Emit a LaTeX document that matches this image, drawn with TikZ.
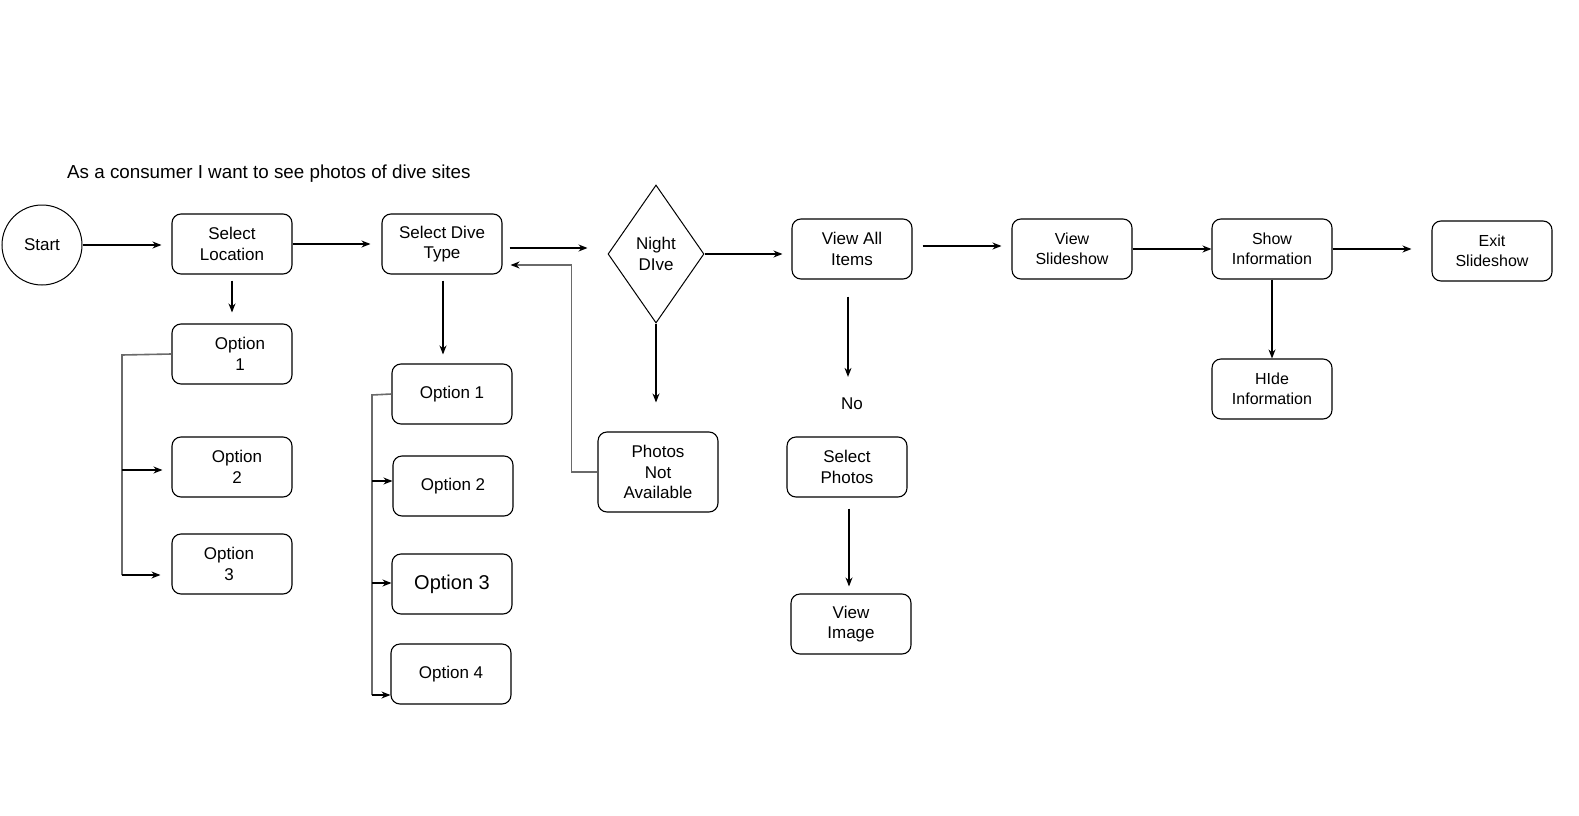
\documentclass[tikz,border=0pt]{standalone}
\usepackage{fontspec}
\setmainfont{Liberation Sans}
\usetikzlibrary{arrows.meta, positioning, calc, shapes.geometric}
\definecolor{ink}{HTML}{000000}
\definecolor{busgray}{HTML}{6A6A6A}

\begin{document}
\begin{tikzpicture}[
  x=1pt, y=-1pt,
  box/.style={draw=ink, rounded corners=9pt, line width=1.1pt,
              minimum width=120pt, minimum height=60pt, inner sep=2pt,
              font=\fontsize{17}{20.5}\selectfont, text=ink, align=center},
  infobox/.style={box, font=\fontsize{16}{19.5}\selectfont},
  decision/.style={draw=ink, diamond, line width=1pt, minimum width=96pt,
              minimum height=138pt, inner sep=0pt,
              font=\fontsize{17}{20.5}\selectfont, align=center},
  startnode/.style={draw=ink, circle, line width=1pt, minimum size=80pt,
              inner sep=0pt, font=\fontsize{17}{20.5}\selectfont},
  arr/.style={-{Stealth[length=9pt, width=7pt]}, line width=1.1pt, color=ink},
  bus/.style={line width=1.6pt, color=busgray},
  backarr/.style={bus, -{Stealth[length=9pt, width=7pt, color=ink]}}
]
  \useasboundingbox (0,0) rectangle (1579,816);

  % Title
  \node[anchor=west, inner sep=0pt, font=\fontsize{18.8}{22}\selectfont] (title) at (67,174)
    {As a consumer I want to see photos of dive sites};

  % Main row
  \node[startnode] (start) at (42,245) {Start};
  \node[box] (selloc) at (232,244) {Select\\Location};
  \node[box] (seldive) at (442,244) {Select Dive\\Type};
  \node[decision] (night) at (656,254) {Night\\DIve};
  \node[box] (viewall) at (852,249) {View All\\Items};
  \node[infobox] (viewslide) at (1072,249) {View\\Slideshow};
  \node[infobox] (showinfo) at (1272,249) {Show\\Information};
  \node[infobox] (exitslide) at (1492,251) {Exit\\Slideshow};
  \node[infobox] (hideinfo) at (1272,389) {HIde\\Information};

  % Location options
  \node[box] (lopt1) at (232,354) {\hspace*{16pt}Option\\\hspace*{16pt}1};
  \node[box] (lopt2) at (232,467) {\hspace*{10pt}Option\\\hspace*{10pt}2};
  \node[box] (lopt3) at (232,564) {Option\hspace*{6pt}\\3\hspace*{6pt}};

  % Dive type options
  \node[box] (dopt1) at (452,394) {Option 1};
  \node[box] (dopt2) at (453,486) {Option 2};
  \node[box, font=\fontsize{20}{24}\selectfont] (dopt3) at (452,584) {Option 3};
  \node[box] (dopt4) at (451,674) {Option 4};

  % Photos branch
  \node[box, minimum height=80pt] (noavail) at (658,472) {Photos\\Not\\Available};
  \node[inner sep=0pt, font=\fontsize{17}{20.5}\selectfont] (no) at (852,404) {No};
  \node[box] (selphotos) at (847,467) {Select\\Photos};
  \node[box] (viewimg) at (851,624) {View\\Image};

  % Bus points
  \coordinate (lbus) at (122,355);
  \coordinate (lb2) at (122,470);
  \coordinate (lb3) at (122,575);
  \coordinate (dbus) at (372,395);
  \coordinate (db2) at (372,481);
  \coordinate (db3) at (372,583);
  \coordinate (db4) at (372,695);

  % Main flow
  \draw[arr, shorten >=10pt] (start.east) -- (start.east -| selloc.west);
  \draw[arr, shorten >=11pt] (selloc.east) -- (seldive.west);
  \draw[arr, shorten <=7pt, shorten >=20pt] ([yshift=-4pt]seldive.east) -- ([yshift=-4pt]seldive.east -| night.west);
  \draw[arr, shorten >=9pt] (night.east) -- (night.east -| viewall.west);
  \draw[arr, shorten <=10pt, shorten >=10pt] ([yshift=3pt]viewall.east) -- ([yshift=3pt]viewall.east -| viewslide.west);
  \draw[arr] (viewslide.east) -- (showinfo.west);
  \draw[arr, shorten >=20pt] (showinfo.east) -- (showinfo.east -| exitslide.west);
  \draw[arr] (showinfo.south) -- (hideinfo.north);

  % Location options
  \draw[arr, shorten <=6pt, shorten >=11pt] (selloc.south) -- (lopt1.north);
  \draw[bus] (lopt1.west) -- (lbus) -- (lb3);
  \draw[arr, shorten >=9pt] (lb2) -- (lb2 -| lopt2.west);
  \draw[arr, shorten >=11pt] (lb3) -- (lb3 -| lopt3.west);

  % Dive type options
  \draw[arr, shorten <=6pt, shorten >=9pt] ([xshift=1pt]seldive.south) -- ([xshift=1pt]seldive.south |- dopt1.north);
  \draw[bus] (dopt1.west) -- (dbus) -- (db4);
  \draw[arr] (db2) -- (db2 -| dopt2.west);
  \draw[arr] (db3) -- (db3 -| dopt3.west);
  \draw[arr] (db4) -- (db4 -| dopt4.west);

  % Night dive
  \draw[arr, shorten >=29pt] (night.south) -- (night.south |- noavail.north);
  \draw[backarr, shorten >=8pt] (noavail.west) -- ++(-26pt,0) |- ([yshift=-21pt]seldive.east);

  % View all items
  \draw[arr, shorten <=17pt, shorten >=21pt] ([xshift=-4pt]viewall.south) -- ([xshift=-4pt]viewall.south |- no.north);
  \draw[arr, shorten <=11pt, shorten >=7pt] ([xshift=2pt]selphotos.south) -- ([xshift=2pt]selphotos.south |- viewimg.north);
\end{tikzpicture}
\end{document}
